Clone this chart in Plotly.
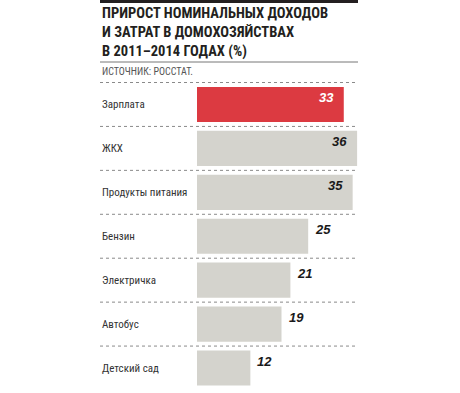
import plotly.graph_objects as go

categories = ["Зарплата", "ЖКХ", "Продукты питания", "Бензин", "Электричка", "Автобус", "Детский сад"]
values = [33, 36, 35, 25, 21, 19, 12]
bar_colors = ["#dc3a41", "#d4d3cd", "#d4d3cd", "#d4d3cd", "#d4d3cd", "#d4d3cd", "#d4d3cd"]
title_lines = ["ПРИРОСТ НОМИНАЛЬНЫХ ДОХОДОВ", "И ЗАТРАТ В ДОМОХОЗЯЙСТВАХ", "В 2011–2014 ГОДАХ (%)"]
source_text = "ИСТОЧНИК: РОССТАТ."

W, H = 460, 393
ML, MR, MT, MB = 197, 102, 82, 3
PW, PH = W - ML - MR, H - MT - MB

def px_x(px):
    return (px - ML) / PW

def px_y(py):
    return (H - MB - py) / PH

NARROW = "Liberation Sans Narrow, Roboto Condensed, Arial Narrow, Liberation Sans, sans-serif"
BOLD = "Liberation Sans, Arial, sans-serif"

fig = go.Figure(go.Bar(
    x=values, y=categories, orientation="h",
    marker=dict(color=bar_colors, line=dict(width=0)),
    hoverinfo="skip",
))

annotations = []
shapes = []

# title
annotations.append(dict(
    text="<br>".join("<b>" + l + "</b>" for l in title_lines),
    xref="paper", yref="paper", align="left",
    x=px_x(100), y=px_y(33), xanchor="left", yanchor="middle",
    showarrow=False, font=dict(family=NARROW, size=14.5, color="#231f20"),
))
annotations.append(dict(
    text=source_text, xref="paper", yref="paper",
    x=px_x(100), y=px_y(71.5), xanchor="left", yanchor="middle",
    showarrow=False, font=dict(family=NARROW, size=10, color="#555555"),
))

# category labels and values
for i, (c, v) in enumerate(zip(categories, values)):
    annotations.append(dict(
        text=c, xref="paper", yref="y", x=px_x(100), y=c,
        xanchor="left", yanchor="middle", showarrow=False,
        font=dict(family=NARROW, size=11, color="#333333"),
    ))
    inside = v >= 30
    annotations.append(dict(
        text="<b><i>%d</i></b>" % v, xref="x", yref="y", x=v, y=c,
        xanchor="right" if inside else "left",
        xshift=-8 if inside else 5, yshift=7,
        yanchor="middle", showarrow=False,
        font=dict(family=BOLD, size=13, color="#ffffff" if i == 0 else "#1a1a1a"),
    ))

# separators
for i in range(len(categories)):
    shapes.append(dict(
        type="line", xref="paper", yref="y",
        x0=px_x(100), x1=px_x(358), y0=i - 0.5, y1=i - 0.5,
        line=dict(color="#8a8a8a", width=1, dash="dot"),
    ))

# top black band and gray rule
shapes.append(dict(type="rect", xref="paper", yref="paper",
                   x0=px_x(100), x1=px_x(358), y0=px_y(3), y1=px_y(0),
                   fillcolor="#231f20", line=dict(width=0)))
shapes.append(dict(type="line", xref="paper", yref="paper",
                   x0=px_x(100), x1=px_x(358), y0=px_y(62), y1=px_y(62),
                   line=dict(color="#777777", width=1)))

fig.update_layout(
    width=W, height=H,
    margin=dict(l=ML, r=MR, t=MT, b=MB, pad=0),
    paper_bgcolor="white", plot_bgcolor="white",
    showlegend=False, bargap=0.2,
    xaxis=dict(range=[0, 36.2], visible=False, fixedrange=True),
    yaxis=dict(autorange="reversed", visible=False, fixedrange=True),
    annotations=annotations, shapes=shapes,
)
fig.update_traces(cliponaxis=False)

fig.write_html("out.html", config={"displayModeBar": False},
               post_script="document.body.style.margin='0';document.body.style.overflow='hidden';")
